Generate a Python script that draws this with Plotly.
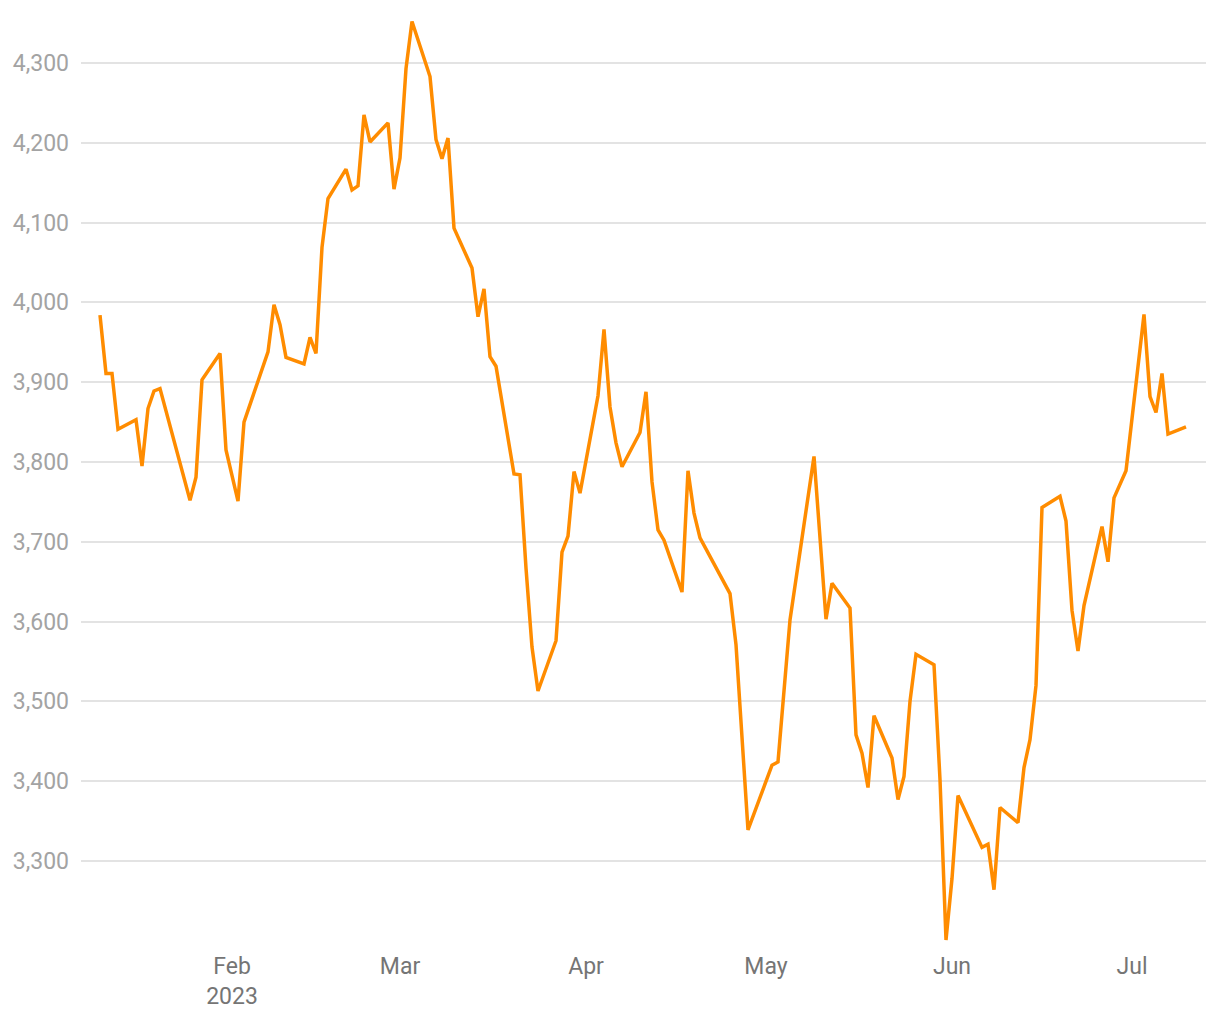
import plotly.graph_objects as go

dates = [
    "2023-01-10", "2023-01-11", "2023-01-12", "2023-01-13", "2023-01-16", "2023-01-17",
    "2023-01-18", "2023-01-19", "2023-01-20", "2023-01-25", "2023-01-26", "2023-01-27",
    "2023-01-30", "2023-01-31", "2023-02-02", "2023-02-03", "2023-02-07", "2023-02-08",
    "2023-02-09", "2023-02-10", "2023-02-13", "2023-02-14", "2023-02-15", "2023-02-16",
    "2023-02-17", "2023-02-20", "2023-02-21", "2023-02-22", "2023-02-23", "2023-02-24",
    "2023-02-27", "2023-02-28", "2023-03-01", "2023-03-02", "2023-03-03", "2023-03-06",
    "2023-03-07", "2023-03-08", "2023-03-09", "2023-03-10", "2023-03-13", "2023-03-14",
    "2023-03-15", "2023-03-16", "2023-03-17", "2023-03-20", "2023-03-21", "2023-03-22",
    "2023-03-23", "2023-03-24", "2023-03-27", "2023-03-28", "2023-03-29", "2023-03-30",
    "2023-03-31", "2023-04-03", "2023-04-04", "2023-04-05", "2023-04-06", "2023-04-07",
    "2023-04-10", "2023-04-11", "2023-04-12", "2023-04-13", "2023-04-14", "2023-04-17",
    "2023-04-18", "2023-04-19", "2023-04-20", "2023-04-25", "2023-04-26", "2023-04-28",
    "2023-05-02", "2023-05-03", "2023-05-05", "2023-05-09", "2023-05-11", "2023-05-12",
    "2023-05-15", "2023-05-16", "2023-05-17", "2023-05-18", "2023-05-19", "2023-05-22",
    "2023-05-23", "2023-05-24", "2023-05-25", "2023-05-26", "2023-05-29", "2023-05-30",
    "2023-05-31", "2023-06-01", "2023-06-02", "2023-06-06", "2023-06-07", "2023-06-08",
    "2023-06-09", "2023-06-12", "2023-06-13", "2023-06-14", "2023-06-15", "2023-06-16",
    "2023-06-19", "2023-06-20", "2023-06-21", "2023-06-22", "2023-06-23", "2023-06-26",
    "2023-06-27", "2023-06-28", "2023-06-30", "2023-07-03", "2023-07-04", "2023-07-05",
    "2023-07-06", "2023-07-07", "2023-07-10",
]

values = [
    3984, 3911, 3911, 3841, 3853, 3795,
    3867, 3889, 3892, 3752, 3781, 3903,
    3936, 3815, 3751, 3850, 3938, 3997,
    3972, 3931, 3923, 3956, 3936, 4069,
    4130, 4167, 4141, 4146, 4235, 4201,
    4225, 4142, 4181, 4293, 4352, 4283,
    4204, 4180, 4206, 4093, 4043, 3982,
    4017, 3932, 3920, 3785, 3784, 3667,
    3568, 3513, 3576, 3687, 3707, 3788,
    3761, 3883, 3966, 3869, 3824, 3794,
    3837, 3888, 3775, 3715, 3702, 3637,
    3789, 3736, 3705, 3635, 3571, 3339,
    3420, 3424, 3602, 3807, 3603, 3648,
    3617, 3458, 3435, 3392, 3482, 3429,
    3377, 3406, 3500, 3559, 3546, 3402,
    3201, 3278, 3382, 3317, 3321, 3264,
    3367, 3348, 3417, 3452, 3520, 3743,
    3757, 3726, 3614, 3563, 3620, 3719,
    3675, 3755, 3789, 3985, 3882, 3862,
    3911, 3835, 3844,
]

y_ticks = [3300, 3400, 3500, 3600, 3700, 3800, 3900, 4000, 4100, 4200, 4300]
x_tick_vals = ["2023-02-01", "2023-03-01", "2023-04-01", "2023-05-01", "2023-06-01", "2023-07-01"]
x_tick_text = ["Feb<br>2023", "Mar", "Apr", "May", "Jun", "Jul"]

fig = go.Figure(
    go.Scatter(
        x=dates,
        y=values,
        mode="lines",
        line=dict(color="#ff8c00", width=3.5),
        hoverinfo="x+y",
    )
)

fig.update_layout(
    width=1212,
    height=1012,
    margin=dict(l=73, r=14, t=2, b=75),
    paper_bgcolor="white",
    plot_bgcolor="white",
    showlegend=False,
    font=dict(family="Roboto, sans-serif", size=23),
)

fig.update_xaxes(
    type="date",
    range=["2023-01-06 20:00", "2023-07-13 08:00"],
    tickvals=x_tick_vals,
    ticktext=x_tick_text,
    showgrid=False,
    zeroline=False,
    showline=False,
    ticks="",
    ticklabelstandoff=5,
    tickfont=dict(color="#757575", size=23),
)

fig.update_yaxes(
    range=[3194.7, 4366.4],
    tickvals=y_ticks,
    tickformat=",d",
    showgrid=True,
    gridcolor="#e3e3e3",
    gridwidth=1.5,
    zeroline=False,
    showline=False,
    ticks="",
    ticklabelstandoff=11,
    tickfont=dict(color="#a3a3a3", size=23),
)

fig.write_html("out.html")
